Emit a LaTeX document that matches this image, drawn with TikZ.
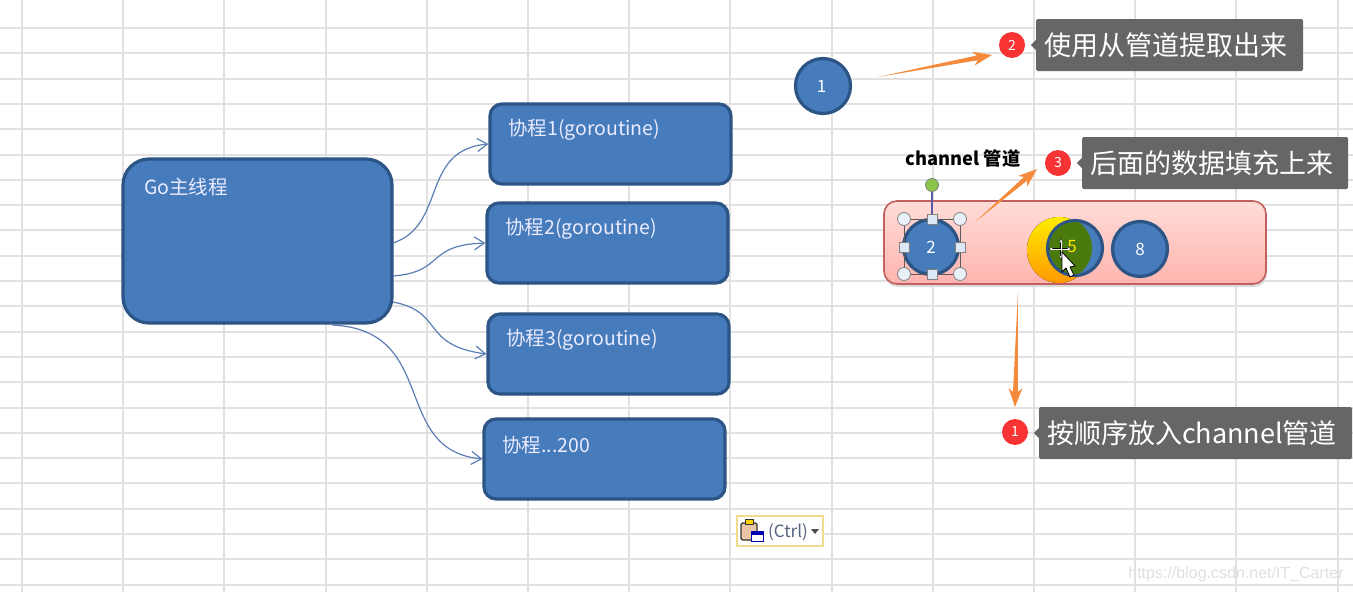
\documentclass[tikz,border=0pt]{standalone}
\usepackage{fontspec}
\setmainfont{Noto Sans CJK SC}
\newfontfamily\markfont{Liberation Sans}
\usetikzlibrary{arrows.meta,calc}
\definecolor{gridgray}{HTML}{E0E1E0}
\definecolor{boxblue}{HTML}{477CBC}
\definecolor{boxedge}{HTML}{2C5485}
\definecolor{notegray}{HTML}{666666}
\definecolor{badgered}{HTML}{F73333}
\definecolor{arroworange}{HTML}{F58A3A}
\definecolor{linkblue}{HTML}{5B7FB5}
\definecolor{handleblue}{HTML}{DCE8F5}
\definecolor{chanedge}{HTML}{C0605F}
\definecolor{chantop}{HTML}{FFDCD8}
\definecolor{chanbottom}{HTML}{FFB4AE}
\definecolor{movegreen}{HTML}{4B7A0C}
\definecolor{rotgreen}{HTML}{8CC34A}
\definecolor{pastetextgray}{HTML}{55657F}
\definecolor{pasteedge}{HTML}{F0DC8C}
\tikzset{
  taskbox/.style={draw=boxedge,line width=3.2pt,fill=boxblue,rounded corners=12pt},
  tasktext/.style={anchor=west,inner sep=0pt,text=white!92!blue,font=\fontsize{19.5}{19.5}\selectfont},
  ball/.style={circle,draw=boxedge,line width=3.2pt,fill=boxblue,minimum size=55pt,inner sep=0pt,text=white,font=\fontsize{17}{17}\selectfont},
  notebox/.style={fill=notegray,rounded corners=1.5pt,text=white,inner sep=0pt,font=\fontsize{27}{27}\selectfont},
  badge/.style={circle,fill=badgered,minimum size=26pt,inner sep=0pt,text=white,font=\fontsize{14}{14}\selectfont},
  link/.style={draw=linkblue,line width=1.2pt,-{Straight Barb[length=10pt,width=13pt]}},
  hint/.style={fill=arroworange},
  roundgrip/.style={circle,draw=gray,line width=.8pt,fill=handleblue!60,minimum size=13pt,inner sep=0pt},
  squaregrip/.style={draw=gray,line width=.6pt,fill=handleblue,minimum size=10pt,inner sep=0pt},
}
\newcommand{\notetext}[1]{\hspace*{-7pt}\raisebox{-2pt}{#1}}
\newcommand{\hintarrow}[2]{%
  \fill[hint] (#1) -- ($(#2)!15pt!(#1)!2.4pt!90:(#1)$) -- ($(#2)!19pt!(#1)!7pt!90:(#1)$) -- (#2)
    -- ($(#2)!19pt!(#1)!7pt!-90:(#1)$) -- ($(#2)!15pt!(#1)!2.4pt!-90:(#1)$) -- cycle;}
\begin{document}
\begin{tikzpicture}[x=1pt,y=-1pt]
  \useasboundingbox (0,0) rectangle (1353,592);
  \fill[white] (0,0) rectangle (1353,592);
  % sheet lines
  \foreach \col in {0,...,13}
    \draw[gridgray,line width=2pt] ({22+101.2*\col},0) -- ({22+101.2*\col},592);
  \foreach \row in {0,...,22}
    \draw[gridgray,line width=2pt] (0,{28+25.3*\row}) -- (1353,{28+25.3*\row});

  % main thread and tasks
  \draw[taskbox,rounded corners=26pt] (123,159) rectangle (392,323);
  \node[tasktext] (maintext) at (144,187) {Go主线程};
  \node[taskbox,minimum width=241pt,minimum height=80pt] (task1) at (610.5,144) {};
  \node[taskbox,minimum width=241pt,minimum height=80pt] (task2) at (607.5,243) {};
  \node[taskbox,minimum width=241pt,minimum height=80pt] (task3) at (608.5,354) {};
  \node[taskbox,minimum width=241pt,minimum height=80pt] (task4) at (604.5,459) {};
  \node[tasktext] (label1) at (508,130) {协程1(goroutine)};
  \node[tasktext] (label2) at (505,229) {协程2(goroutine)};
  \node[tasktext] (label3) at (506,340) {协程3(goroutine)};
  \node[tasktext] (label4) at (502,445) {协程...200};

  \coordinate (out1) at (393,243);
  \coordinate (out2) at (393,276);
  \coordinate (out3) at (393,302);
  \coordinate (out4) at (332,325);
  \begin{scope}
    \draw[link] (out1) .. controls (447,225) and (420,150) .. (task1.west);
    \draw[link] (out2) .. controls (445,272) and (425,245) .. (task2.west);
    \draw[link] (out3) .. controls (445,312) and (420,345) .. (task3.west);
    \draw[link] (out4) .. controls (440,330) and (390,450) .. (task4.west);
  \end{scope}

  % channel
  \node[ball] (ball1) at (823,86) {\hspace*{-3pt}1};
  \node[font=\fontsize{18.3}{18.3}\selectfont\bfseries] (chantitle) at (963,159) {channel 管道};
  \fill[black!14,rounded corners=13pt] (885,204) rectangle (1267,287);
  \draw[draw=chanedge,line width=1.6pt,rounded corners=13pt,top color=chantop,bottom color=chanbottom] (884,201) rectangle (1266,284);
  \fill[top color=yellow!85!orange,bottom color=orange!80!yellow] (1059,250) ellipse (32pt and 33pt);
  \node[ball] (ball2) at (931,247) {2};
  \node[ball] (ball5) at (1075,248) {};
  \begin{scope}
    \clip (1075,248) circle (26pt);
    \fill[movegreen] (1060,248) ellipse (32pt and 32pt);
  \end{scope}
  \node[text=yellow!85!orange,font=\fontsize{17}{17}\selectfont] (num5) at (1072,247) {5};
  \node[ball] (ball8) at (1140,249) {8};

  % selection marks of the ball
  \node[roundgrip,fill=rotgreen] (rotgrip) at (932,185) {};
  \draw[draw=gray!70!blue,line width=1.2pt] (rotgrip) -- (932,219);
  \draw[draw=gray!70!black,line width=.8pt] (904,219) rectangle (960,274);
  \foreach \gx/\gy in {904/219,960/219,904/274,960/274}
    \node[roundgrip] at (\gx,\gy) {};
  \foreach \gx/\gy in {932/219,904/247,960/247,932/274}
    \node[squaregrip] at (\gx,\gy) {};

  % pointer
  \draw[black,line width=2.4pt,<->,>={Stealth[length=5pt]}] (1048,249) -- (1072,249);
  \draw[black,line width=2.4pt,<->,>={Stealth[length=5pt]}] (1061,238) -- (1061,260);
  \draw[white,line width=1pt,<->,>={Stealth[length=4pt]}] (1049,249) -- (1071,249);
  \draw[white,line width=1pt,<->,>={Stealth[length=4pt]}] (1061,239) -- (1061,259);
  \draw[black,fill=white,line width=.8pt] (1062,252) -- (1062,272) -- (1066,268) -- (1070,277) -- (1074,275) -- (1070,267) -- (1075,266) -- cycle;

  % notes
  \node[notebox,minimum width=267pt,minimum height=52pt] (note2) at (1169.5,45) {\notetext{使用从管道提取出来}};
  \node[notebox,minimum width=266pt,minimum height=52pt] (note3) at (1215,163) {\notetext{后面的数据填充上来}};
  \node[notebox,minimum width=313pt,minimum height=52pt] (note1) at (1195.5,433) {\notetext{按顺序放入channel管道}};
  \fill[notegray] (note2.west) ++(0,-5) -- ++(-5,5) -- ++(5,5) -- cycle;
  \fill[notegray] (note3.west) ++(0,-5) -- ++(-5,5) -- ++(5,5) -- cycle;
  \fill[notegray] (note1.west) ++(0,-5) -- ++(-5,5) -- ++(5,5) -- cycle;
  \node[badge] (badge2) at (1012,45) {2};
  \node[badge] (badge3) at (1058,163) {3};
  \node[badge] (badge1) at (1015,432) {1};

  \coordinate (from2) at (878,77);
  \coordinate (to2) at (992,55);
  \coordinate (from3) at (975,222);
  \coordinate (to3) at (1037,169);
  \coordinate (from1) at (1018,292);
  \coordinate (to1) at (1015,407);
  \hintarrow{from2}{to2}
  \hintarrow{from3}{to3}
  \hintarrow{from1}{to1}

  % paste button
  \node[draw=pasteedge,line width=1.4pt,fill=white,minimum width=86pt,minimum height=30pt] (paste) at (780,531) {};
  \node[anchor=west,text=pastetextgray,inner sep=0pt,font=\fontsize{17}{17}\selectfont] (pastetext) at (768,532) {(Ctrl)};
  \fill[black!70] (811,529) -- (819,529) -- (815,534) -- cycle;
  \draw[black!80,fill=black!25!orange!35,line width=1.2pt,rounded corners=1.5pt] (741,523) rectangle (757,540);
  \draw[black!80,fill=yellow!70!orange,line width=.6pt] (745,519) rectangle (753,524);
  \draw[blue!70!black,fill=white,line width=1pt] (751,531) rectangle (763,541);
  \fill[blue!70!black] (751,531) rectangle (763,535);

  \node[text=black!12,font=\markfont\fontsize{16}{16}\selectfont] (mark) at (1236,574) {https://blog.csdn.net/IT\_Carter};
\end{tikzpicture}
\end{document}
